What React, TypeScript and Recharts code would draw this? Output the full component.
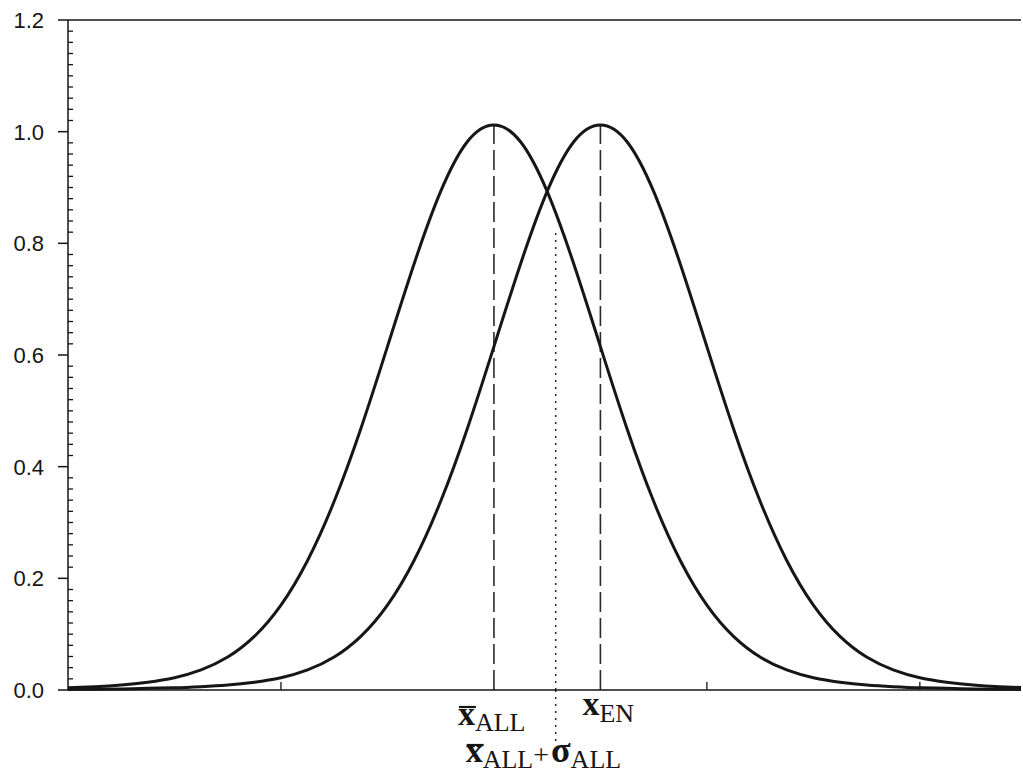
import React from "react";
import { LineChart, Line, XAxis, YAxis, ReferenceLine } from "recharts";

// x in units of ~106.5px (tick spacing = 2 units)
const xPos = [
  -4, -3.75, -3.5, -3.25, -3, -2.75, -2.5, -2.25, -2, -1.75, -1.5, -1.25, -1,
  -0.75, -0.5, -0.25, 0, 0.25, 0.5, 0.75, 1, 1.25, 1.5, 1.75, 2, 2.25, 2.5,
  2.75, 3, 3.25, 3.5, 3.75, 4, 4.25, 4.5, 4.75, 5,
];

const allCurve = [
  0.004, 0.006, 0.009, 0.014, 0.022, 0.036, 0.059, 0.096, 0.152, 0.232, 0.338,
  0.468, 0.615, 0.763, 0.893, 0.982, 1.012, 0.982, 0.893, 0.763, 0.615, 0.468,
  0.338, 0.232, 0.152, 0.096, 0.059, 0.036, 0.022, 0.014, 0.009, 0.006, 0.004,
  0.003, 0.002, 0.0015, 0.001,
];

const enCurve = [
  0.001, 0.0015, 0.002, 0.003, 0.004, 0.006, 0.009, 0.014, 0.022, 0.036, 0.059,
  0.096, 0.152, 0.232, 0.338, 0.468, 0.615, 0.763, 0.893, 0.982, 1.012, 0.982,
  0.893, 0.763, 0.615, 0.468, 0.338, 0.232, 0.152, 0.096, 0.059, 0.036, 0.022,
  0.014, 0.009, 0.006, 0.004,
];

const allMean = 0;
const enMean = 1;
const allPlusSigma = 0.58;
const peakValue = 1.012;
const sigmaLineTop = 0.82;

const xTicks = [-2, allMean, allPlusSigma, enMean, 2, 4];
const yMajorTicks = [0, 0.2, 0.4, 0.6, 0.8, 1.0, 1.2];
const yAllTicks = Array.from({ length: 61 }, (_, i) => Math.round(i * 2) / 100);

const data = xPos.map((x, i) => ({ x, all: allCurve[i], en: enCurve[i] }));

const ink = "#151515";
const serif = "'Liberation Serif', 'Times New Roman', serif";

const isMajor = (v: number) => yMajorTicks.some((t) => Math.abs(t - v) < 1e-6);

const LeftTick = (props: any) => {
  const { x, y, payload } = props;
  const v = payload.value;
  if (isMajor(v)) {
    return (
      <g>
        <line x1={x - 10} x2={x} y1={y} y2={y} stroke={ink} strokeWidth={1.5} />
        <text
          x={x - 24}
          y={y}
          dy={8}
          textAnchor="end"
          fontSize={22}
          fontFamily="'Liberation Sans', Arial, sans-serif"
          fill={ink}
        >
          {v.toFixed(1)}
        </text>
      </g>
    );
  }
  return <line x1={x} x2={x + 5} y1={y} y2={y} stroke={ink} strokeWidth={1.3} />;
};

const RightTick = (props: any) => {
  const { x, y, payload } = props;
  if (isMajor(payload.value)) return <g />;
  return <rect x={x - 3} y={y - 1} width={2} height={2} fill="#777" />;
};

const BottomTick = (props: any) => {
  const { x, y, payload } = props;
  const v = payload.value;
  if (v === allMean) {
    return (
      <g fill={ink}>
        <line x1={x - 35} x2={x - 18} y1={y + 17} y2={y + 17} stroke={ink} strokeWidth={2.2} />
        <text x={x - 36} y={y + 35} fontFamily={serif}>
          <tspan fontSize={34} fontWeight="bold">x</tspan>
          <tspan fontSize={26} dy={6}>ALL</tspan>
        </text>
      </g>
    );
  }
  if (v === enMean) {
    return (
      <g fill={ink}>
        <text x={x - 18} y={y + 25} fontFamily={serif}>
          <tspan fontSize={34} fontWeight="bold">x</tspan>
          <tspan fontSize={26} dy={7}>EN</tspan>
        </text>
      </g>
    );
  }
  if (v === allPlusSigma) {
    return (
      <g fill={ink}>
        <line
          x1={x}
          x2={x}
          y1={y}
          y2={y + 53}
          stroke="#222"
          strokeWidth={1.5}
          strokeDasharray="2 5"
        />
        <line x1={x - 89} x2={x - 72} y1={y + 55} y2={y + 55} stroke={ink} strokeWidth={2.2} />
        <text x={x - 90} y={y + 72} fontFamily={serif}>
          <tspan fontSize={34} fontWeight="bold">x</tspan>
          <tspan fontSize={26} dy={6}>ALL</tspan>
          <tspan fontSize={28} dy={-4}>+</tspan>
          <tspan fontSize={36} dx={2} dy={-2} fontWeight="bold">σ</tspan>
          <tspan fontSize={26} dy={6}>ALL</tspan>
        </text>
      </g>
    );
  }
  return <line x1={x} x2={x} y1={y} y2={y - 8} stroke={ink} strokeWidth={1.3} />;
};

const App = () => {
  return (
    <div style={{ position: "absolute", left: 0, top: 0, width: 1023, height: 775, overflow: "hidden", background: "#fff" }}>
      <LineChart
        width={1023}
        height={775}
        data={data}
        margin={{ top: 20, right: 0, left: 8, bottom: 55 }}
      >
        <XAxis
          dataKey="x"
          type="number"
          domain={[-4, 4.95]}
          allowDataOverflow
          ticks={xTicks}
          interval={0}
          tickSize={0}
          tickMargin={0}
          height={30}
          tick={<BottomTick />}
          axisLine={{ stroke: ink, strokeWidth: 1.5 }}
        />
        <YAxis
          type="number"
          domain={[0, 1.2]}
          ticks={yAllTicks}
          interval={0}
          tickSize={0}
          tickMargin={0}
          width={60}
          tick={<LeftTick />}
          axisLine={{ stroke: ink, strokeWidth: 1.5 }}
        />
        <YAxis
          yAxisId="right"
          orientation="right"
          type="number"
          domain={[0, 1.2]}
          ticks={yAllTicks}
          interval={0}
          tickSize={0}
          tickMargin={0}
          width={2}
          tick={<RightTick />}
          axisLine={false}
        />
        <ReferenceLine y={1.2} stroke={ink} strokeWidth={1.5} />
        <ReferenceLine
          segment={[
            { x: allMean, y: 0 },
            { x: allMean, y: peakValue },
          ]}
          stroke="#2a2a2a"
          strokeWidth={1.6}
          strokeDasharray="20 6"
        />
        <ReferenceLine
          segment={[
            { x: enMean, y: 0 },
            { x: enMean, y: peakValue },
          ]}
          stroke="#2a2a2a"
          strokeWidth={1.6}
          strokeDasharray="20 6"
        />
        <ReferenceLine
          segment={[
            { x: allPlusSigma, y: 0 },
            { x: allPlusSigma, y: sigmaLineTop },
          ]}
          stroke="#222"
          strokeWidth={1.5}
          strokeDasharray="2 5"
        />
        <Line
          type="natural"
          dataKey="all"
          stroke="#161616"
          strokeWidth={3}
          dot={false}
          activeDot={false}
          isAnimationActive={false}
        />
        <Line
          type="natural"
          dataKey="en"
          stroke="#161616"
          strokeWidth={3}
          dot={false}
          activeDot={false}
          isAnimationActive={false}
        />
      </LineChart>
    </div>
  );
};

export default App;
